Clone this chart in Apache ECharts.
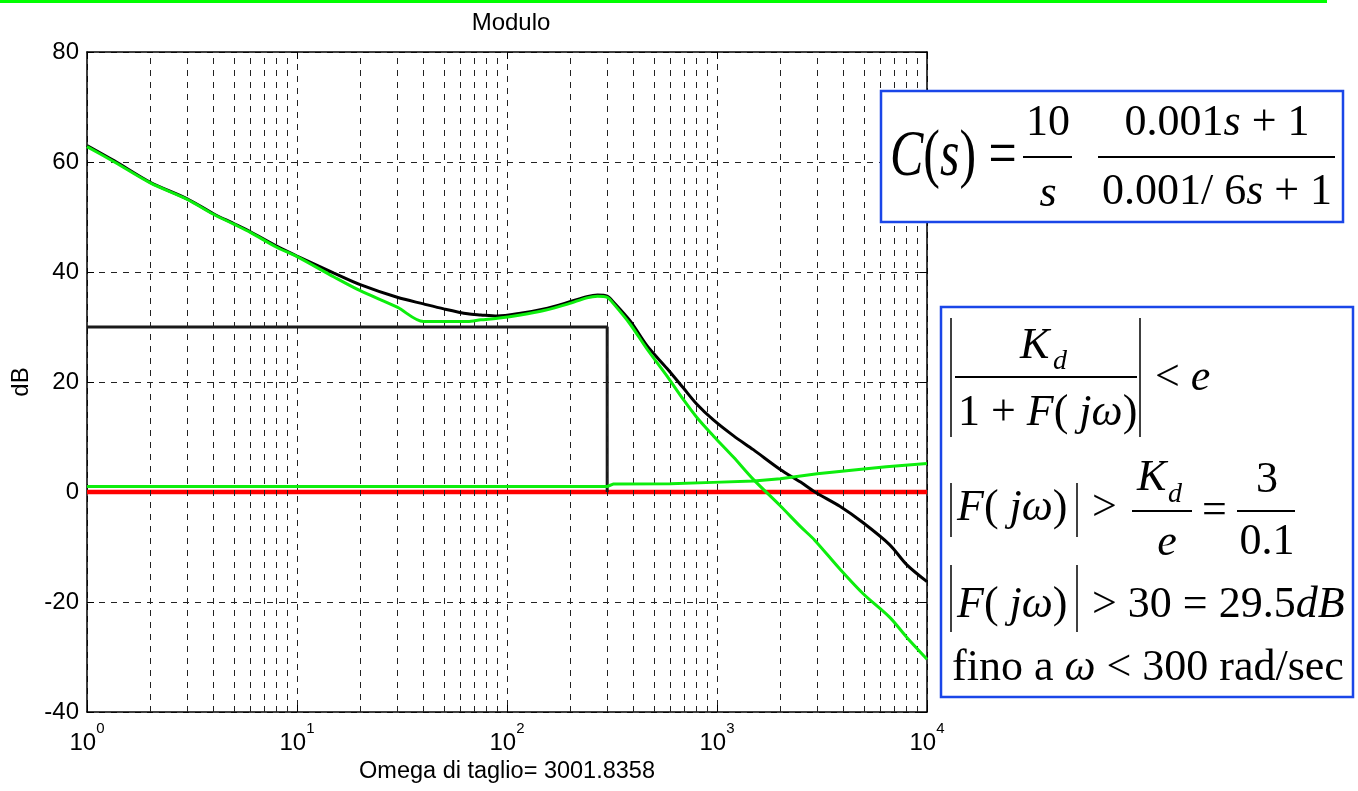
<!DOCTYPE html>
<html>
<head>
<meta charset="utf-8">
<script src="https://cdn.jsdelivr.net/npm/echarts@6/dist/echarts.min.js"></script>
<style>
html,body{margin:0;padding:0;background:#fff;}
#c{width:1358px;height:791px;}
</style>
</head>
<body>
<div id="c"></div>
<script>
// ---- data ----
const omega = [1, 1.35, 2, 3, 4, 5, 6, 8, 10, 15, 20, 30, 40, 50, 65, 75, 90, 116, 150, 196, 240, 270, 300, 322, 386, 464, 577, 692, 800, 961, 1200, 1489, 2000, 2500, 2925, 3846, 4966, 6650, 8000, 10000];
const blackDb = [63.0, 60.2, 56.3, 53.3, 50.6, 48.8, 47.3, 44.7, 42.9, 39.8, 37.7, 35.4, 34.2, 33.3, 32.4, 32.2, 32.0, 32.5, 33.3, 34.5, 35.5, 35.8, 35.6, 34.5, 31.1, 26.6, 22.5, 18.9, 16.0, 13.1, 10.2, 7.7, 4.1, 1.8, 0.0, -2.6, -5.6, -9.6, -13.2, -16.3];
const greenDb = [62.8, 60.0, 56.2, 53.2, 50.5, 48.7, 47.2, 44.5, 42.8, 39.1, 36.6, 33.6, 31.0, 31.0, 31.0, 31.3, 31.6, 32.2, 33.0, 34.2, 35.3, 35.6, 35.4, 34.2, 30.5, 26.0, 21.1, 16.8, 13.6, 10.2, 6.3, 2.3, -2.5, -6.3, -8.8, -14.0, -18.5, -22.8, -26.4, -30.4];
const omegaLow = [1, 300, 320, 600, 961, 1500, 2000, 3000, 5000, 6400, 10000];
const greenLowDb = [1.0, 1.0, 1.45, 1.5, 1.75, 2.0, 2.4, 3.3, 4.2, 4.6, 5.2];
const boundOmega = [1, 300, 300];
const boundDb = [30, 30, 0];
const zeroOmega = [1, 10000];
const zeroDb = [0, 0];
const minorTicks = [2,3,4,5,6,7,8,9, 20,30,40,50,60,70,80,90, 200,300,400,500,600,700,800,900, 2000,3000,4000,5000,6000,7000,8000,9000];
const titleText = 'Modulo';
const xName = 'Omega di taglio= 3001.8358';
const yName = 'dB';

const zip = (a, b) => a.map((v, i) => [v, b[i]]);
const SANS = "'Liberation Sans', Arial, sans-serif";
const SERIF = "'Liberation Serif', 'Times New Roman', serif";
const GREEN = '#0ded0d';
const BLUE = '#1a46e8';

const chart = echarts.init(document.getElementById('c'), null, {renderer: 'canvas'});

const gridDash = {type: [6, 6], color: '#222', width: 1};

function T(x, y, text, size, align, extra) {
  return Object.assign({
    type: 'text', x: x, y: y, z: 101,
    style: {
      text: text, fontSize: size, fontFamily: SERIF, fill: '#000',
      align: align || 'left', verticalAlign: 'middle',
      rich: {
        n: {fontSize: size, fontFamily: SERIF, fill: '#000'},
        i: {fontSize: size, fontFamily: SERIF, fontStyle: 'italic', fill: '#000'}
      }
    }
  }, extra || {});
}
function L(x1, y1, x2, y2, w) {
  return {type: 'line', z: 101, shape: {x1: x1, y1: y1, x2: x2, y2: y2}, style: {stroke: '#000', lineWidth: w || 2}};
}
const FJW = '{i|F}{n|(}{i| jω}{n|)}';

const graphics = [
  {type: 'rect', z: 100, shape: {x: 0, y: 0, width: 1327, height: 3}, style: {fill: '#00ff00'}},
  // box 1
  {type: 'rect', z: 100, shape: {x: 881, y: 91, width: 462, height: 131}, style: {fill: '#fff', stroke: BLUE, lineWidth: 2.5}},
  T(890, 158, '{i|C}{n|(}{i|s}{n|) =}', 50, 'left', {scaleY: 1.3}),
  T(1048, 123, '10', 44, 'center'),
  L(1023, 157, 1072, 157),
  T(1048, 194, '{i|s}', 44, 'center'),
  T(1217, 123, '{n|0.001}{i|s}{n| + 1}', 44, 'center'),
  L(1098, 157, 1335, 157),
  T(1217, 192, '{n|0.001/ 6}{i|s}{n| + 1}', 44, 'center'),
  // box 2
  {type: 'rect', z: 100, shape: {x: 941, y: 307, width: 412, height: 390}, style: {fill: '#fff', stroke: BLUE, lineWidth: 2.5}},
  L(951, 318, 951, 437, 1.5), L(1140, 318, 1140, 437, 1.5),
  T(1020, 346, '{i|K}', 44, 'left'),
  T(1053, 362, '{i|d}', 28, 'left'),
  L(955, 377, 1137, 377),
  T(958, 413, '{n|1 + }' + FJW, 44, 'left'),
  T(1155, 378, '{n|< }{i|e}', 44, 'left'),
  L(951, 483, 951, 537, 1.5), L(1077, 483, 1077, 537, 1.5),
  T(957, 508, FJW, 44, 'left'),
  T(1092, 508, '>', 44, 'left'),
  T(1137, 478, '{i|K}', 44, 'left'),
  T(1168, 495, '{i|d}', 28, 'left'),
  L(1132, 511, 1192, 511),
  T(1167, 543, '{i|e}', 44, 'center'),
  T(1202, 511, '=', 44, 'left'),
  L(1237, 511, 1295, 511),
  T(1267, 480, '3', 44, 'center'),
  T(1267, 542, '0.1', 44, 'center'),
  L(951, 565, 951, 632, 1.5), L(1077, 565, 1077, 632, 1.5),
  T(957, 605, FJW, 44, 'left'),
  T(1092, 605, '{n|> 30 = 29.5}{i|dB}', 44, 'left'),
  T(952, 668, '{n|fino a }{i|ω}{n| < 300 rad/sec}', 44, 'left')
];

const option = {
  backgroundColor: '#fff',
  animation: false,
  title: {
    text: titleText, left: 506, top: 6, textAlign: 'center',
    textStyle: {fontFamily: SANS, fontSize: 24, fontWeight: 'normal', color: '#000'}
  },
  grid: {left: 87, top: 52, width: 840, height: 660, containLabel: false},
  xAxis: [{
    type: 'log', logBase: 10, min: 1, max: 10000,
    name: xName, nameLocation: 'middle', nameGap: 45,
    nameTextStyle: {fontFamily: SANS, fontSize: 23.5, color: '#000'},
    axisLine: {onZero: false, lineStyle: {color: '#000', width: 1.5}},
    axisTick: {inside: true, length: 7, lineStyle: {color: '#000'}},
    splitLine: {show: true, lineStyle: gridDash},
    minorTick: {show: false}, minorSplitLine: {show: false},
    axisLabel: {
      margin: 9, color: '#000',
      formatter: function (v) { return '{b|10}{s|' + Math.round(Math.log10(v)) + '}'; },
      rich: {
        b: {fontFamily: SANS, fontSize: 24, color: '#000', padding: [10, 0, 0, 0]},
        s: {fontFamily: SANS, fontSize: 15, color: '#000', padding: [0, 0, 18, 0]}
      }
    }
  }, {
    type: 'log', logBase: 10, min: 1, max: 10000, position: 'top',
    axisLine: {onZero: false, lineStyle: {color: '#000', width: 1.5}},
    axisTick: {inside: true, length: 7, lineStyle: {color: '#000'}},
    axisLabel: {show: false}, splitLine: {show: false}
  }],
  yAxis: [{
    type: 'value', min: -40, max: 80, interval: 20,
    name: yName, nameLocation: 'middle', nameGap: 53,
    nameTextStyle: {fontFamily: SANS, fontSize: 24, color: '#000'},
    axisLine: {show: true, onZero: false, lineStyle: {color: '#000', width: 1.5}},
    axisTick: {show: true, inside: true, length: 7, lineStyle: {color: '#000'}},
    splitLine: {show: true, lineStyle: gridDash},
    axisLabel: {margin: 8, color: '#000', fontFamily: SANS, fontSize: 24}
  }, {
    type: 'value', min: -40, max: 80, interval: 20, position: 'right',
    axisLine: {show: true, onZero: false, lineStyle: {color: '#000', width: 1.5}},
    axisTick: {show: true, inside: true, length: 7, lineStyle: {color: '#000'}},
    axisLabel: {show: false}, splitLine: {show: false}
  }],
  graphic: graphics,
  series: [
    {
      type: 'line', z: 1, data: [], silent: true, symbol: 'none',
      markLine: {
        silent: true, symbol: ['none', 'none'], label: {show: false},
        lineStyle: gridDash, animation: false,
        data: minorTicks.map(v => ({xAxis: v}))
      }
    },
    {type: 'line', z: 3, data: zip(zeroOmega, zeroDb), symbol: 'none', lineStyle: {color: '#ff0000', width: 4.5}},
    {type: 'line', z: 4, data: zip(boundOmega, boundDb), symbol: 'none', lineStyle: {color: '#1a1a1a', width: 3}},
    {type: 'line', z: 5, data: zip(omega, blackDb), symbol: 'none', smooth: 0.3, lineStyle: {color: '#000', width: 3}},
    {type: 'line', z: 6, data: zip(omega, greenDb), symbol: 'none', smooth: 0.3, lineStyle: {color: GREEN, width: 3}},
    {type: 'line', z: 6, data: zip(omegaLow, greenLowDb), symbol: 'none', lineStyle: {color: GREEN, width: 3}}
  ]
};
chart.setOption(option);
</script>
</body>
</html>
